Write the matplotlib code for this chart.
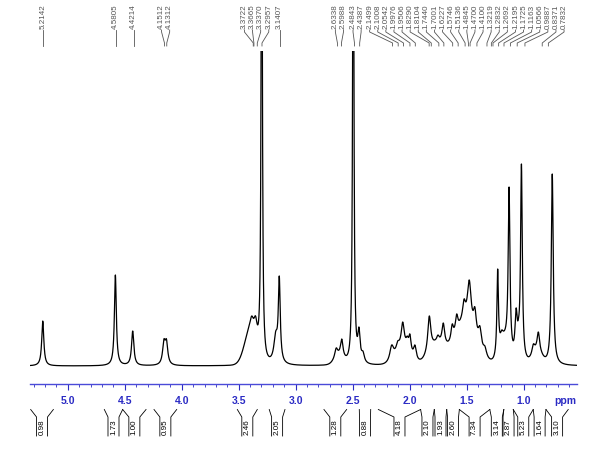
import numpy as np
import matplotlib.pyplot as plt
from matplotlib.lines import Line2D
from matplotlib.ticker import MultipleLocator

plt.rcParams['font.family'] = ['Liberation Sans', 'DejaVu Sans']

# peaks: shift (ppm), height above baseline, half width (ppm)
peak_ppm = [5.219, 4.582, 4.430, 4.156, 4.134,
            3.386, 3.352, 3.298, 3.175, 3.144,
            2.645, 2.596, 2.495, 2.445, 2.410,
            2.158, 2.105, 2.061, 2.021, 1.998, 1.954,
            1.828, 1.752, 1.705, 1.627, 1.588, 1.565, 1.523, 1.477, 1.428, 1.384, 1.340,
            1.228, 1.193, 1.160, 1.128, 1.066, 1.045, 1.0195,
            0.915, 0.871, 0.749]
peak_height = [45, 91, 35, 27, 27,
               50, 50, 600, 35, 90,
               18, 27, 600, 39, 15,
               21, 25, 44, 30, 32, 21,
               50, 31, 43, 42, 52, 44, 67, 86, 59, 40, 20,
               97, 36, 34, 179, 58, 48, 202,
               22, 34, 192]
peak_width = [0.011, 0.010, 0.012, 0.014, 0.014,
              0.018, 0.018, 0.006, 0.020, 0.010,
              0.015, 0.013, 0.006, 0.012, 0.015,
              0.020, 0.015, 0.015, 0.012, 0.012, 0.015,
              0.016, 0.013, 0.014, 0.013, 0.013, 0.010, 0.015, 0.020, 0.016, 0.018, 0.018,
              0.008, 0.015, 0.015, 0.009, 0.012, 0.012, 0.009,
              0.015, 0.013, 0.010]

# broad humps under the multiplets: centre (ppm), height, sigma (ppm)
hump_ppm = [3.40, 2.62, 2.06, 1.76, 1.52, 1.17, 0.88]
hump_height = [32, 8, 18, 20, 40, 22, 12]
hump_sigma = [0.05, 0.04, 0.06, 0.07, 0.09, 0.04, 0.04]

# peak picking labels (top)
pick_ppm = [5.2142, 4.5805, 4.4214, 4.1512, 4.1312, 3.3722, 3.3665, 3.3370, 3.2957,
            3.1407, 2.6338, 2.5988, 2.4843, 2.4387, 2.1499, 2.1008, 2.0542, 1.9976,
            1.9506, 1.8290, 1.8104, 1.7440, 1.7001, 1.6227, 1.5746, 1.5136, 1.4845,
            1.4700, 1.4100, 1.3219, 1.2832, 1.2692, 1.2195, 1.1725, 1.1163, 1.0566,
            0.9887, 0.8371, 0.7832]

# integrals (bottom)
int_from = [5.325, 4.679, 4.518, 4.243, 3.512, 3.232, 2.752, 2.442, 2.275,
            1.904, 1.784, 1.675, 1.564, 1.297, 1.174, 1.091, 0.916, 0.804]
int_to = [5.126, 4.518, 4.313, 4.044, 3.337, 3.094, 2.553, 2.342, 1.904,
          1.784, 1.675, 1.564, 1.297, 1.174, 1.091, 0.916, 0.804, 0.609]
int_val = ['0.98', '1.73', '1.00', '0.95', '2.46', '2.05', '1.28', '0.88', '4.18',
           '2.10', '1.93', '2.60', '7.34', '3.14', '2.87', '5.23', '1.64', '3.10']


def lorentz(x, c, w):
    return 1.0 / (1.0 + ((x - c) / w) ** 2)


def gauss(x, c, s):
    return np.exp(-0.5 * ((x - c) / s) ** 2)


pos = np.array(peak_ppm)
tgt = np.array(peak_height, dtype=float)
wid = np.array(peak_width)
hc, hh, hs = np.array(hump_ppm), np.array(hump_height), np.array(hump_sigma)


def humps(x):
    return (gauss(x[:, None], hc[None, :], hs[None, :]) * hh).sum(axis=1)


# amplitudes so that the summed trace hits the read heights
rest = np.clip(tgt - humps(pos), 1, None)
M = lorentz(pos[:, None], pos[None, :], wid[None, :])
amp = rest.copy()
for _ in range(400):
    amp *= rest / (M @ amp)

ppm = np.linspace(5.34, 0.52, 8000)
spec = (lorentz(ppm[:, None], pos[None, :], wid[None, :]) * amp).sum(axis=1) + humps(ppm)

W, H = 600, 456
blue = '#2b2bc4'
fig = plt.figure(figsize=(6, 4.56), dpi=100)
ax = fig.add_axes([30 / W, 71 / H, 547 / W, 333 / H])
ax.plot(ppm, spec, color='black', lw=0.9)
ax.set_xlim(5.331, 0.532)
ax.set_ylim(-18, 315)

for s in ['top', 'left', 'right']:
    ax.spines[s].set_visible(False)
ax.spines['bottom'].set_color('#4a4ad8')
ax.spines['bottom'].set_linewidth(1.0)
ax.set_yticks([])
ax.set_xticks([5.0, 4.5, 4.0, 3.5, 3.0, 2.5, 2.0, 1.5, 1.0])
ax.set_xticklabels(['5.0', '4.5', '4.0', '3.5', '3.0', '2.5', '2.0', '1.5', '1.0'])
ax.xaxis.set_minor_locator(MultipleLocator(0.1))
ax.tick_params(axis='x', which='major', colors=blue, length=4, width=0.8,
               labelsize=7.5, pad=4)
ax.tick_params(axis='x', which='minor', colors=blue, length=2, width=0.6)
for t in ax.get_xticklabels():
    t.set_fontweight('bold')
fig.text(565 / W, 1 - 401 / H, 'ppm', ha='center', va='center', color=blue,
         fontsize=7.5, fontweight='bold')


def px(v):
    return ax.transData.transform((v, 0))[0]


def fline(xs, ys, **kw):
    fig.add_artist(Line2D(np.array(xs) / W, 1 - np.array(ys) / H,
                          transform=fig.transFigure, **kw))


# spread the peak labels so they do not overlap
gap = 8.1
xp = [px(v) for v in pick_ppm]
groups = [[x] for x in xp]
centers = list(xp)
changed = True
while changed:
    changed = False
    for i in range(len(groups) - 1):
        ri = centers[i] + (len(groups[i]) - 1) * gap / 2
        lj = centers[i + 1] - (len(groups[i + 1]) - 1) * gap / 2
        if lj - ri < gap:
            g = groups[i] + groups[i + 1]
            groups[i:i + 2] = [g]
            centers[i:i + 2] = [np.mean(g)]
            changed = True
            break
xl = []
for g, c in zip(groups, centers):
    n = len(g)
    xl += [c + (k - (n - 1) / 2) * gap for k in range(n)]

for v, xpk, xlab in zip(pick_ppm, xp, xl):
    fig.text(xlab / W, 1 - 29 / H, f'{v:.4f}', rotation=90, ha='center',
             va='bottom', fontsize=5.8, color='#555555')
    fline([xlab, xlab, xpk, xpk], [31, 33, 44, 47], color='#555555', lw=0.6)

# integral brackets
for a, b, v in zip(int_from, int_to, int_val):
    xa, xb = px(a), px(b)
    xc = (xa + xb) / 2
    fline([xa, xc - 5.5, xc - 5.5], [410.5, 418, 437], color='black', lw=0.6)
    fline([xb, xc + 5.5, xc + 5.5], [410.5, 418, 437], color='black', lw=0.6)
    fig.text(xc / W, 1 - 427.5 / H, v, rotation=90, ha='center', va='center',
             fontsize=5.8, color='black')

fig.savefig('out.png', dpi=100)
